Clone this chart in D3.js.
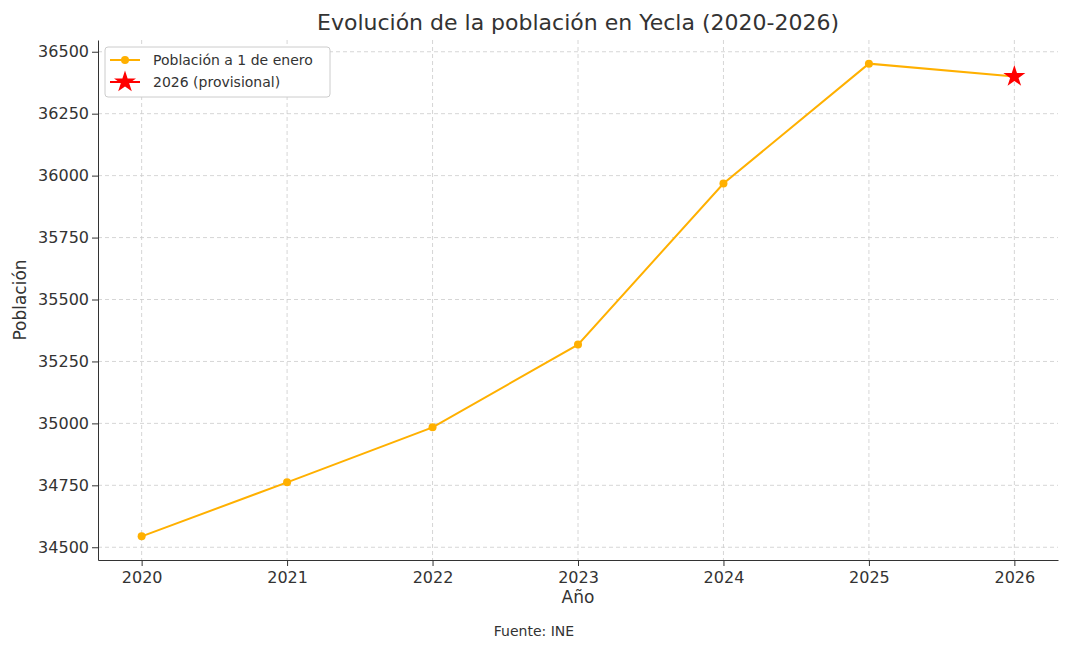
<!DOCTYPE html>
<html><head><meta charset="utf-8">
<script src="https://cdn.jsdelivr.net/npm/d3@7/dist/d3.min.js"></script>
<style>body{margin:0;background:#fff}text{font-family:"DejaVu Sans",sans-serif;fill:#333}</style>
</head><body><svg id="c" width="1068" height="650"></svg>
<script>
const years=[2020,2021,2022,2023,2024,2025];
const population=[34544,34762,34984,35318,35968,36452];
const provYear=[2026];
const provValue=[36400];
const yTicks=[34500,34750,35000,35250,35500,35750,36000,36250,36500];
const xTicks=[2020,2021,2022,2023,2024,2025,2026];

const svg=d3.select("#c");
const L=98,R=1058,T=40,B=560;
const x=d3.scaleLinear().domain([2019.7,2026.3]).range([L,R]);
const y=d3.scaleLinear().domain([34448.6,36547.4]).range([B,T]);
const orange="#FFB000";

const g=svg.append("g");
g.selectAll(".vg").data(xTicks).join("line").attr("x1",d=>x(d)).attr("x2",d=>x(d)).attr("y1",T).attr("y2",B)
 .attr("stroke","#ccc").attr("stroke-dasharray","4,3").attr("stroke-width",0.8);
g.selectAll(".hg").data(yTicks).join("line").attr("y1",d=>y(d)).attr("y2",d=>y(d)).attr("x1",L).attr("x2",R)
 .attr("stroke","#ccc").attr("stroke-dasharray","4,3").attr("stroke-width",0.8);

const xa=svg.append("g").attr("transform",`translate(0,${B})`).call(d3.axisBottom(x).tickValues(xTicks).tickFormat(d3.format("d")).tickSizeOuter(0));
const ya=svg.append("g").attr("transform",`translate(${L},0)`).call(d3.axisLeft(y).tickValues(yTicks).tickFormat(d3.format("d")).tickSizeOuter(0));
[xa,ya].forEach(a=>{a.selectAll("text").style("font-size","16px").attr("fill","#333");a.selectAll("line,path").attr("stroke","#333");});
xa.selectAll("text").attr("dy","0.9em");

const pts=years.map((d,i)=>[d,population[i]]);
const all=pts.concat([[provYear[0],provValue[0]]]);
svg.append("path").datum(all).attr("fill","none").attr("stroke",orange).attr("stroke-width",2)
 .attr("d",d3.line().x(d=>x(d[0])).y(d=>y(d[1])));
svg.selectAll(".pt").data(pts).join("circle").attr("cx",d=>x(d[0])).attr("cy",d=>y(d[1])).attr("r",4).attr("fill",orange);
const star=d3.symbol().type(d3.symbolStar).size(150);
svg.append("path").attr("d",star()).attr("transform",`translate(${x(provYear[0])},${y(provValue[0])})`).attr("fill","red");

svg.append("text").attr("x",578).attr("y",30).attr("text-anchor","middle").style("font-size","22px").text("Evolución de la población en Yecla (2020-2026)");
svg.append("text").attr("x",578).attr("y",603).attr("text-anchor","middle").style("font-size","17px").text("Año");
svg.append("text").attr("transform","translate(26,300) rotate(-90)").attr("text-anchor","middle").style("font-size","17px").text("Población");
svg.append("text").attr("x",534).attr("y",636).attr("text-anchor","middle").style("font-size","14px").text("Fuente: INE");

const lg=svg.append("g");
lg.append("rect").attr("x",105).attr("y",47).attr("width",225).attr("height",50).attr("rx",3).attr("fill","#fff").attr("stroke","#ccc");
lg.append("line").attr("x1",110).attr("x2",140).attr("y1",60).attr("y2",60).attr("stroke",orange).attr("stroke-width",2);
lg.append("circle").attr("cx",125).attr("cy",60).attr("r",4).attr("fill",orange);
lg.append("line").attr("x1",110).attr("x2",140).attr("y1",82).attr("y2",82).attr("stroke","red").attr("stroke-width",2);
lg.append("path").attr("d",star()).attr("transform","translate(125,82)").attr("fill","red");
lg.append("text").attr("x",153).attr("y",65).style("font-size","14px").text("Población a 1 de enero");
lg.append("text").attr("x",153).attr("y",87).style("font-size","14px").text("2026 (provisional)");
</script></body></html>
